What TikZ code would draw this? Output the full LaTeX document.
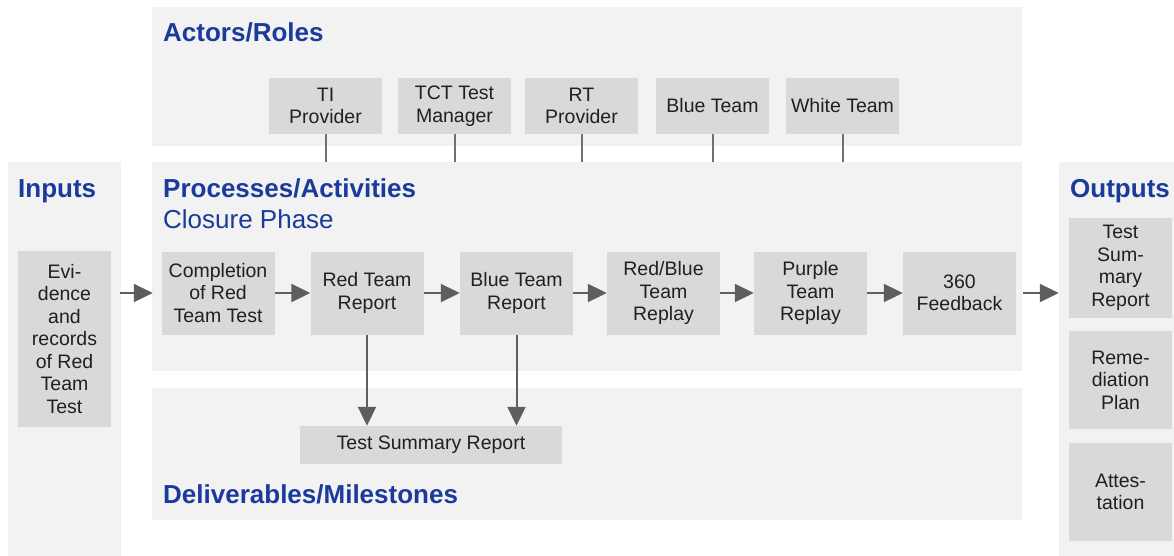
\documentclass[tikz,border=0pt]{standalone}
\usepackage{fontspec}
\setmainfont{Liberation Sans}
\usetikzlibrary{arrows.meta}
\definecolor{panelc}{HTML}{F2F2F2}
\definecolor{boxc}{HTML}{D9D9D9}
\definecolor{titlec}{HTML}{1A3A9C}
\definecolor{arrowc}{HTML}{5E5E5E}
\definecolor{linec}{HTML}{707070}
\definecolor{textc}{HTML}{202020}
\tikzset{
  panel/.style={fill=panelc, draw=none, inner sep=0pt, minimum width=#1},
  pbox/.style={fill=boxc, draw=none, inner sep=0pt, align=center, text=textc,
    font=\fontsize{19.5}{22.5}\selectfont},
  ttl/.style={anchor=base west, inner sep=0pt, text=titlec, font=\fontsize{26}{30}\selectfont\bfseries},
  subttl/.style={anchor=base west, inner sep=0pt, text=titlec, font=\fontsize{26}{30}\selectfont},
  flow/.style={draw=arrowc, line width=2pt, -{Triangle[length=19pt,width=18pt]}},
  link/.style={draw=linec, line width=2pt}
}
\begin{document}
\begin{tikzpicture}[x=1pt,y=-1pt]
\useasboundingbox (0,0) rectangle (1174,556);
% panels
\node[panel=870pt, minimum height=139pt] (actp) at (587,76.5) {};
\node[panel=870pt, minimum height=209pt] (proc) at (587,266.5) {};
\node[panel=870pt, minimum height=132pt] (deliv) at (587,454) {};
\node[panel=113pt, minimum height=394pt] (inp) at (64.5,359) {};
\node[panel=115pt, minimum height=394pt] (outp) at (1116.5,359) {};
% titles
\node[ttl] (tact) at (163,42) {Actors/Roles};
\node[ttl] (tproc) at (163,197) {Processes/Activities};
\node[subttl] (tclos) at (163,228) {Closure Phase};
\node[ttl] (tdel) at (163,503) {Deliverables/Milestones};
\node[ttl] (tinp) at (18,197) {Inputs};
\node[ttl] (tout) at (1070,197) {Outputs};
% actors
\begin{scope}[every node/.style={pbox, minimum width=113pt, minimum height=56pt}]
\node (ti) at (325.5,106) {TI\\Provider};
\node (tct) at (454.5,106) {TCT Test\\Manager};
\node (rt) at (581.5,106) {RT\\Provider};
\node (bt) at (712.5,106) {Blue Team};
\node (wt) at (842.5,106) {White Team};
\end{scope}
% input
\node[pbox, minimum width=93pt, minimum height=176pt] (evid) at (64.5,339) {Evi-\\dence\\and\\records\\of Red\\Team\\Test};
% processes
\begin{scope}[every node/.style={pbox, minimum width=113pt, minimum height=83pt}]
\node (comp) at (218,293) {Completion\\of Red\\Team Test};
\node (rtr) at (367,293) {Red Team\\Report};
\node (btr) at (516.5,293) {Blue Team\\Report};
\node (rbr) at (663.5,293) {Red/Blue\\Team\\Replay};
\node (ptr) at (810.5,293) {Purple\\Team\\Replay};
\node (fb) at (959.5,293) {360\\Feedback};
\end{scope}
% deliverable
\node[pbox, minimum width=262pt, minimum height=38pt] (tsr) at (431,445) {Test Summary Report};
% outputs
\begin{scope}[every node/.style={pbox, minimum width=103pt}]
\node[minimum height=100pt] (o1) at (1120.5,268) {Test\\Sum-\\mary\\Report};
\node[minimum height=98pt] (o2) at (1120.5,380) {Reme-\\diation\\Plan};
\node[minimum height=98pt] (o3) at (1120.5,492) {Attes-\\tation};
\end{scope}
% actor links
\foreach \a in {ti,tct,rt,bt,wt}{
  \draw[link] (\a.south) -- (\a.south |- proc.north);
}
% flow arrows
\draw[flow, shorten <=9pt, shorten >=8.5pt] (evid.east |- comp.west) -- (comp.west);
\draw[flow] (comp.east) -- (rtr.west);
\draw[flow] (rtr.east) -- (btr.west);
\draw[flow] (btr.east) -- (rbr.west);
\draw[flow] (rbr.east) -- (ptr.west);
\draw[flow] (ptr.east) -- (fb.west);
\draw[flow, shorten <=7pt, shorten >=10pt] (fb.east) -- (fb.east -| o1.west);
\draw[flow] (rtr.south) -- (rtr.south |- tsr.north);
\draw[flow] (btr.south) -- (btr.south |- tsr.north);
\end{tikzpicture}
\end{document}
